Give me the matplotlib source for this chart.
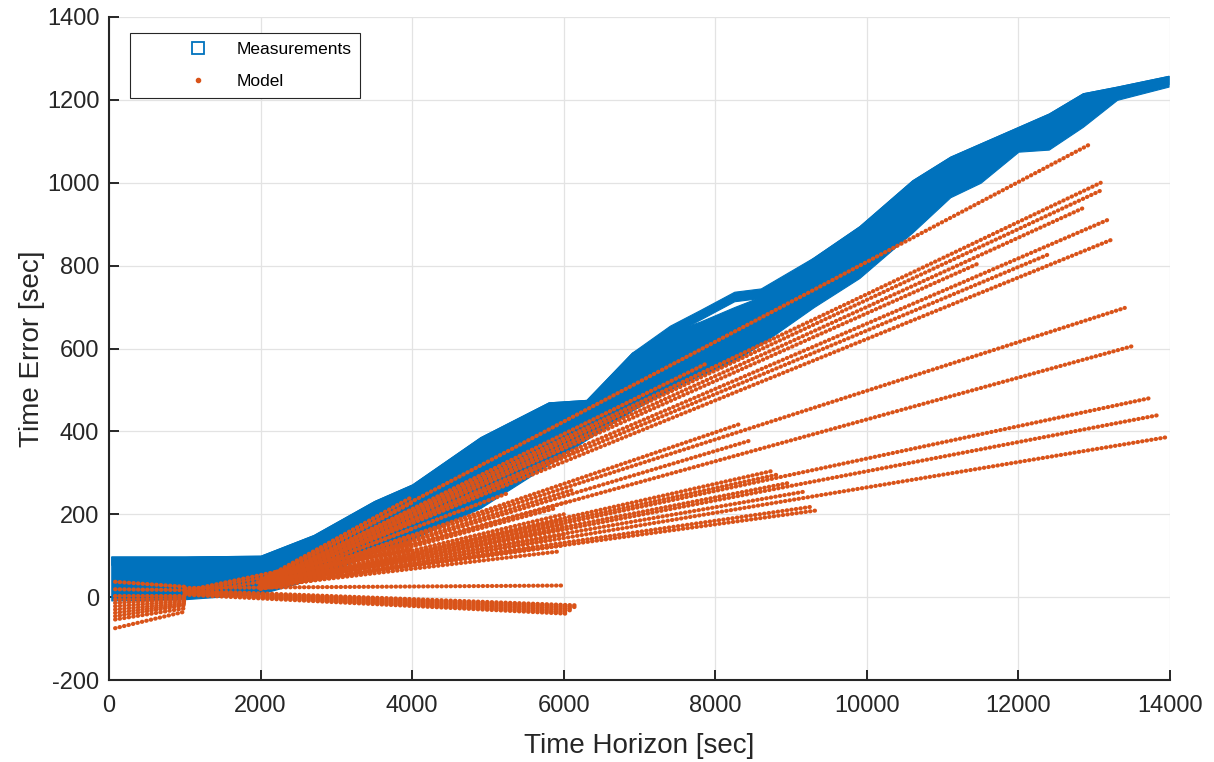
import matplotlib
matplotlib.use("Agg")
import matplotlib.pyplot as plt
from matplotlib.lines import Line2D

plt.rcParams['font.family'] = ['Liberation Sans', 'DejaVu Sans']
plt.rcParams['axes.unicode_minus'] = False

BLUE = '#0072BD'
ORANGE = '#D95319'
DARK = '#262626'

meas_x = [30, 1000, 2000, 2700, 3500, 4000, 4900, 5800, 6300, 6900, 7400, 7800,
          8250, 8600, 9300, 9900, 10600, 11100, 11500, 12000, 12400, 12850, 13300, 13980]
meas_upper = [98, 98, 100, 150, 232, 272, 386, 470, 476, 590, 655, 693,
              737, 745, 820, 895, 1006, 1063, 1095, 1135, 1167, 1216, 1232, 1258]
meas_inner = [98, 98, 100, 150, 232, 272, 386, 470, 476, 590, 640, 665,
              700, 725, 820, 895, 1006, 1063, 1095, 1135, 1167, 1216, 1232, 1258]
meas_shelf = [78, 78, 80, 130, 212, 252, 366, 450, 456, 570, 632, 670,
              714, 722, 800, 875, 986, 1043, 1075, 1115, 1147, 1196, 1212, 1238]
meas_lower = [-8, -5, 8, 44, 108, 140, 215, 320, 380, 450, 500, 535,
              570, 610, 700, 770, 880, 965, 1000, 1075, 1080, 1135, 1200, 1232]

# model predictions: straight segments (start -> end)
# short runs near the origin
short_x0 = [80] * 11
short_y0 = [37, 19, 2, -6, -14, -22, -30, -38, -46, -54, -75]
short_x1 = [1000] * 11
short_y1 = [25, 17, 2, -2, -6, -10, -14, -17, -20, -27, -35]

# runs started at ~1000 s
mid_x0 = [1000, 1000, 1000, 1000, 1000, 1000, 1000, 1000, 1000, 1000]
mid_y0 = [22, 16, 14, 12, 10, 8, 6, 8, 12, 15]
mid_x1 = [5970, 6190, 6160, 6130, 6100, 6070, 6040, 4000, 4000, 4000]
mid_y1 = [28, -20, -24, -28, -32, -36, -40, 95, 115, 130]

# runs started at ~2000 s
long_x0 = [2000] * 44
long_y0 = [40, 36, 33, 30, 28, 26, 24, 22,
           25, 25, 25, 25, 25, 28, 30, 30, 32,
           25, 25, 25, 25, 25, 25, 25, 25,
           38, 34, 34, 32, 30, 30, 30, 32, 28,
           25, 22, 22, 20, 22, 22, 20, 22, 24, 24]
long_x1 = [4000, 4000, 4000, 4000, 4000, 4000, 4000, 4000,
           5925, 6000, 6000, 6000, 6000, 6050, 5250, 6215, 7886,
           8312, 8444, 8738, 8826, 8980, 9156, 9266, 9367,
           12966, 13085, 13107, 12879, 13173, 13222, 12394, 11481, 13403,
           13509, 13727, 13866, 13958, 6000, 5600, 5800, 6000, 5900, 6100]
long_y1 = [242, 228, 212, 196, 180, 165, 150, 136,
           110, 125, 150, 175, 200, 230, 250, 355, 564,
           417, 377, 304, 296, 276, 254, 218, 210,
           1095, 1000, 983, 941, 910, 862, 827, 806, 698,
           606, 480, 440, 386, 165, 120, 138, 188, 215, 258]

x_ticks = [0, 2000, 4000, 6000, 8000, 10000, 12000, 14000]
y_ticks = [-200, 0, 200, 400, 600, 800, 1000, 1200, 1400]

fig = plt.figure(figsize=(12.14, 7.62), dpi=100)
ax = fig.add_axes([0.0898, 0.1076, 0.8740, 0.8701])

# measurements
ax.fill_between(meas_x, meas_lower, meas_inner, color=BLUE, lw=0.8, zorder=2)
ax.fill_between(meas_x, meas_shelf, meas_upper, color=BLUE, lw=0.8, zorder=2)

# model lines drawn as dotted samples
groups = [(short_x0, short_y0, short_x1, short_y1),
          (mid_x0, mid_y0, mid_x1, mid_y1),
          (long_x0, long_y0, long_x1, long_y1)]
for gx0, gy0, gx1, gy1 in groups:
    for x0, y0, x1, y1 in zip(gx0, gy0, gx1, gy1):
        ax.plot([x0, x1], [y0, y1], color=ORANGE, lw=3.0,
                linestyle=(0, (0.1, 1.0)), dash_capstyle='round', zorder=3)

ax.set_xlim(0, 14000)
ax.set_ylim(-200, 1400)
ax.set_xticks(x_ticks)
ax.set_yticks(y_ticks)
ax.grid(True, color='#e3e3e3', lw=0.9)
ax.set_axisbelow(True)

for side in ['top', 'right']:
    ax.spines[side].set_visible(False)
for side in ['left', 'bottom']:
    ax.spines[side].set_color(DARK)
    ax.spines[side].set_linewidth(1.5)
ax.tick_params(direction='in', length=7, width=1.4, color=DARK,
               labelcolor=DARK, labelsize=17)
ax.tick_params(axis='x', pad=11)
ax.tick_params(axis='y', pad=7)

ax.set_xlabel('Time Horizon [sec]', fontsize=20, color=DARK, labelpad=11)
ax.set_ylabel('Time Error [sec]', fontsize=20, color=DARK, labelpad=1)

handles = [
    Line2D([], [], ls='none', marker='s', ms=8, mfc='none', mec=BLUE, mew=1.3),
    Line2D([], [], ls='none', marker='.', ms=6, color=ORANGE),
]
leg = ax.legend(handles, ['Measurements', 'Model'], loc='upper left',
                bbox_to_anchor=(0.02, 0.976), borderaxespad=0, fontsize=12.5,
                handlelength=6.8, handletextpad=-1.2, labelspacing=1.0,
                borderpad=0.5, fancybox=False, framealpha=1)
leg.get_frame().set_edgecolor(DARK)
leg.get_frame().set_linewidth(0.8)

fig.savefig('out.png', dpi=100)
